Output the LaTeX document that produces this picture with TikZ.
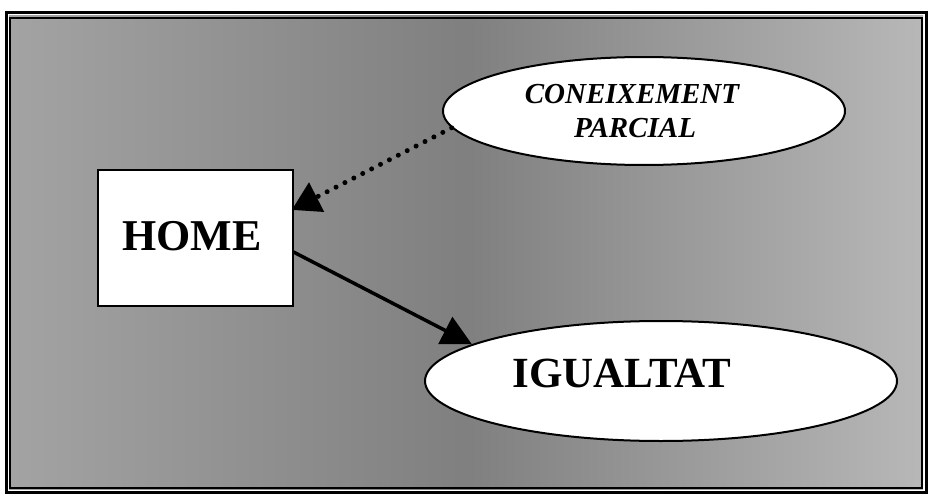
\documentclass[tikz,border=0pt]{standalone}
\usepackage{fontspec}
\setmainfont{Liberation Serif}
\usetikzlibrary{arrows.meta,shapes.geometric}
\begin{document}
\begin{tikzpicture}[x=1pt,y=-1pt,
  bubble/.style={ellipse,draw=black,line width=2pt,fill=white,inner sep=0pt},
  homebox/.style={rectangle,draw=black,line width=2pt,fill=white,inner sep=0pt},
  label/.style={anchor=base,inner sep=0pt},
  solidarrow/.style={line width=3.5pt,-{Triangle[length=30pt,width=30pt]}},
  dotarrow/.style={line width=5pt,line cap=round,dash pattern=on 0pt off 10pt,-{Triangle[length=28pt,width=32pt]}}]
\useasboundingbox (0,0) rectangle (930,495);
\fill[white] (0,0) rectangle (930,495);
% background
\shade[left color=black!36,right color=black!28,middle color=black!50] (9,16) rectangle (923,489);
\draw[line width=3pt] (6,13) rectangle (926,492);
\draw[line width=1.2pt] (10,18) rectangle (922,488);
% nodes
\node[homebox,minimum width=195pt,minimum height=136pt] (home) at (195,238) {};
\node[label,font=\bfseries\fontsize{44}{44}\selectfont] (hometext) at (192,250) {HOME};
\node[bubble,minimum width=402pt,minimum height=108pt] (con) at (644,111) {};
\node[label,font=\bfseries\itshape\fontsize{29}{34}\selectfont] (context) at (632,103) {CONEIXEMENT};
\node[label,font=\bfseries\itshape\fontsize{29}{34}\selectfont] (context2) at (635,137) {PARCIAL};
\node[bubble,minimum width=472pt,minimum height=120pt] (igu) at (661,381) {};
\node[label,font=\bfseries\fontsize{43}{43}\selectfont] (igutext) at (622,387) {IGUALTAT};
% connectors
\draw[solidarrow] (home.east |- 0,252) -- (igu.169);
\draw[dotarrow,shorten >=-2pt] (con.185) -- (home.north east |- 0,209);
\end{tikzpicture}
\end{document}
